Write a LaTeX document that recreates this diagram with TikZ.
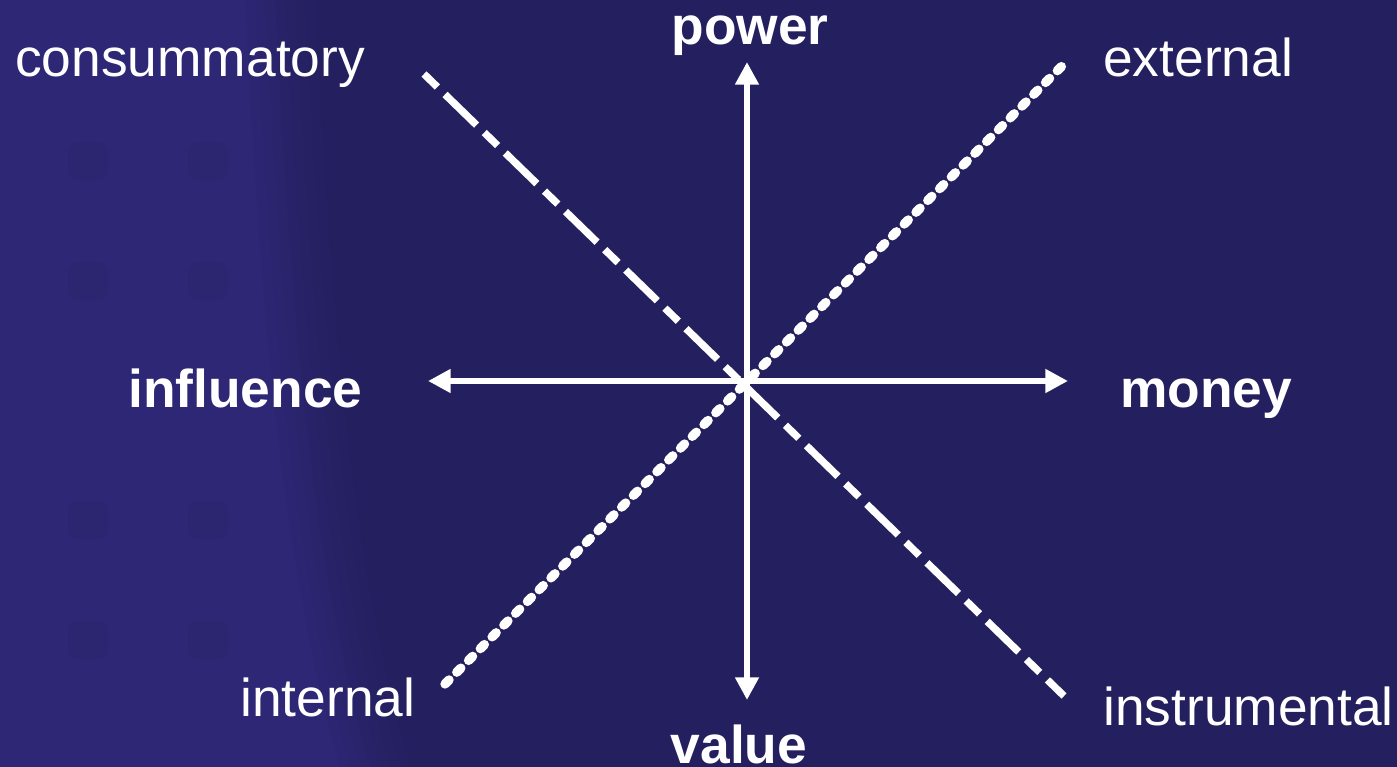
\documentclass[tikz,border=0pt]{standalone}
\usepackage{fontspec}
\setmainfont{Liberation Sans}
\usetikzlibrary{arrows.meta}
\definecolor{bgdark}{RGB}{36,31,94}
\definecolor{bglight}{RGB}{46,39,117}
\definecolor{sqcol}{RGB}{44,37,112}
\tikzset{
  lbl/.style={text=white,inner sep=0pt,font=\fontsize{40}{48}\selectfont},
  blbl/.style={lbl,font=\fontsize{40}{48}\selectfont\bfseries},
  axis/.style={draw=white,line width=5.2pt,-{Triangle[width=17pt,length=17pt]}},
  dashdot/.style={draw=white,line width=5.5pt,dash pattern=on 14pt off 8pt on 33pt off 8pt},
  beads/.style={draw=white,line width=7pt,line cap=round,dash pattern=on 4.3pt off 8.2pt},
  faintsq/.style={fill=sqcol,rounded corners=8pt}
}
\begin{document}
\begin{tikzpicture}[x=0.75pt,y=-0.75pt]
\useasboundingbox (0,0) rectangle (1397,767);
% background
\fill[bgdark] (0,0) rectangle (1397,767);
\foreach \o/\op in {40/0.15,30/0.15,20/0.2,10/0.25,0/0.3,-10/0.4,-20/0.6,-30/1}{
  \fill[bglight,opacity=\op] (0,0) -- (275+\o,0) .. controls (290+\o,300) and (310+\o,560) .. (370+\o,767) -- (0,767) -- cycle;
}
% faint squares
\foreach \yy in {161,281,520,640}{
  \foreach \xx in {88,208}{
    \fill[faintsq] (\xx-20,\yy-19) rectangle (\xx+20,\yy+19);
  }
}
% coordinates
\coordinate (c) at (747,381);
\coordinate (ptop) at (747,62);
\coordinate (pbot) at (747,700);
\coordinate (pleft) at (428,381);
\coordinate (pright) at (1068,381);
\coordinate (dda) at (424,74);
\coordinate (ddb) at (1064,696);
\coordinate (bda) at (445,684);
\coordinate (bdb) at (1066,62);
% diagonal lines
\draw[dashdot] (dda) -- (ddb);
\draw[beads] (bda) -- (bdb);
% axes
\draw[axis] (c) -- (ptop);
\draw[axis] (c) -- (pbot);
\draw[axis] (c) -- (pleft);
\draw[axis] (c) -- (pright);
% labels
\node[blbl,anchor=base] (power) at (750,45) {power};
\node[blbl,anchor=base] (value) at (739,763) {value};
\node[blbl,anchor=base west] (influence) at (128,407) {influence};
\node[blbl,anchor=base west] (money) at (1120,407) {money};
\node[lbl,anchor=base west] (consummatory) at (15,77) {consummatory};
\node[lbl,anchor=base west] (external) at (1103,77) {external};
\node[lbl,anchor=base west] (internal) at (240,716) {internal};
\node[lbl,anchor=base west] (instrumental) at (1103,725) {instrumental};
\end{tikzpicture}
\end{document}
